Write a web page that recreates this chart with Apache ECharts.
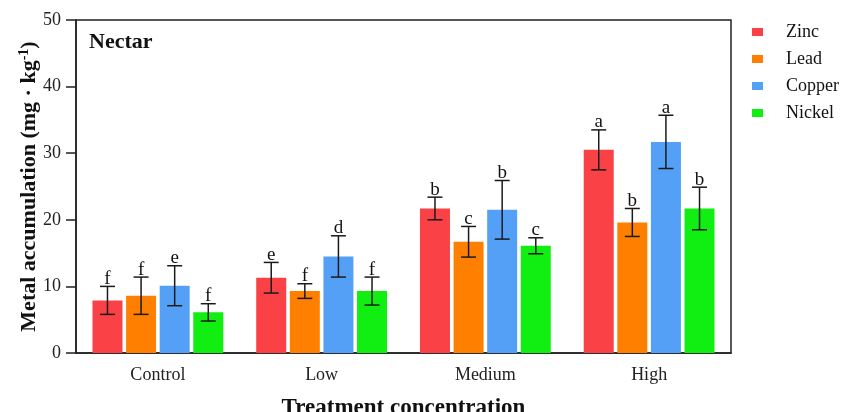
<!DOCTYPE html>
<html>
<head>
<meta charset="utf-8">
<script src="https://cdn.jsdelivr.net/npm/echarts@6/dist/echarts.min.js"></script>
<style>
  html, body { margin: 0; padding: 0; background: #fff; }
  #chart { width: 846px; height: 412px; }
</style>
</head>
<body>
<div id="chart"></div>
<script>
var categories = ["Control", "Low", "Medium", "High"];
var metals = ["Zinc", "Lead", "Copper", "Nickel"];
var colors = ["#fa4246", "#ff8000", "#55a0f7", "#11ee11"];

var zinc = [7.9, 11.3, 21.7, 30.5];
var lead = [8.6, 9.3, 16.7, 19.6];
var copper = [10.1, 14.5, 21.5, 31.7];
var nickel = [6.1, 9.3, 16.1, 21.7];

var zincErr = [2.1, 2.3, 1.7, 3.0];
var leadErr = [2.8, 1.1, 2.3, 2.1];
var copperErr = [3.0, 3.1, 4.4, 4.0];
var nickelErr = [1.3, 2.1, 1.2, 3.2];

var zincSig = ["f", "e", "b", "a"];
var leadSig = ["f", "f", "c", "b"];
var copperSig = ["e", "d", "b", "a"];
var nickelSig = ["f", "f", "c", "b"];

var values = [zinc, lead, copper, nickel];
var errors = [zincErr, leadErr, copperErr, nickelErr];
var letters = [zincSig, leadSig, copperSig, nickelSig];

var serif = "'Liberation Serif', 'Times New Roman', serif";
var barW = 30;
var step = 33.6;

var chart = echarts.init(document.getElementById("chart"));

var series = [];
metals.forEach(function (name, k) {
  series.push({
    name: name,
    type: "bar",
    data: values[k],
    barWidth: barW,
    barGap: "12%",
    itemStyle: { color: colors[k] },
    z: 2
  });
});

// error bars + significance letters, placed on the same offsets as the bars
metals.forEach(function (name, k) {
  series.push({
    name: name + " err",
    type: "custom",
    z: 5,
    data: values[k].map(function (v, i) { return [i, v, errors[k][i]]; }),
    renderItem: function (params, api) {
      var i = api.value(0);
      var v = api.value(1);
      var e = api.value(2);
      var top = api.coord([i, v + e]);
      var bot = api.coord([i, v - e]);
      var x = top[0] + (k - 1.5) * step;
      var cap = 7.5;
      var line = { stroke: "#1a1a1a", lineWidth: 1.5 };
      return {
        type: "group",
        children: [
          { type: "line", shape: { x1: x, y1: top[1], x2: x, y2: bot[1] }, style: line },
          { type: "line", shape: { x1: x - cap, y1: top[1], x2: x + cap, y2: top[1] }, style: line },
          { type: "line", shape: { x1: x - cap, y1: bot[1], x2: x + cap, y2: bot[1] }, style: line },
          {
            type: "text",
            style: {
              text: letters[k][i],
              x: x,
              y: top[1] + 2,
              textAlign: "center",
              textVerticalAlign: "bottom",
              font: "19px " + serif,
              fill: "#111"
            }
          }
        ]
      };
    }
  });
});

chart.setOption({
  animation: false,
  grid: {
    left: 76,
    right: 115,
    top: 20,
    bottom: 59,
    outerBoundsMode: "none",
    containLabel: false,
    show: true,
    borderColor: "#222",
    borderWidth: 1.5,
    backgroundColor: "transparent"
  },
  legend: {
    data: metals,
    orient: "vertical",
    left: 747,
    top: 18,
    icon: "rect",
    itemWidth: 11,
    itemHeight: 8,
    itemGap: 9,
    textStyle: {
      fontFamily: serif,
      fontSize: 18,
      color: "#111",
      padding: [0, 0, 0, 18]
    }
  },
  graphic: [
    {
      type: "text",
      left: 89,
      top: 31,
      style: {
        text: "Nectar",
        font: "bold 22px " + serif,
        fill: "#111"
      }
    }
  ],
  xAxis: {
    type: "category",
    data: categories,
    name: "Treatment concentration",
    nameLocation: "middle",
    nameGap: 44,
    nameMoveOverlap: false,
    nameTextStyle: {
      fontFamily: serif,
      fontSize: 23,
      fontWeight: "bold",
      color: "#111"
    },
    axisLine: { lineStyle: { color: "#222", width: 1.5 } },
    axisTick: { alignWithLabel: true, length: 10, lineStyle: { color: "#222", width: 1.5 } },
    axisLabel: {
      fontFamily: serif,
      fontSize: 18,
      color: "#222",
      margin: 13
    }
  },
  yAxis: {
    type: "value",
    min: 0,
    max: 50,
    interval: 10,
    name: "{a|Metal accumulation (mg · kg}{s|-1}{a|)}",
    nameLocation: "middle",
    nameGap: 35,
    nameMoveOverlap: false,
    nameTextStyle: {
      rich: {
        a: {
          fontFamily: serif,
          fontSize: 22,
          fontWeight: "bold",
          color: "#111"
        },
        s: {
          fontFamily: serif,
          fontSize: 14,
          fontWeight: "bold",
          color: "#111",
          verticalAlign: "top",
          padding: [0, 0, 10, 0]
        }
      }
    },
    splitLine: { show: false },
    axisLine: { show: true, lineStyle: { color: "#222", width: 1.5 } },
    axisTick: { show: true, length: 10, lineStyle: { color: "#222", width: 1.5 } },
    axisLabel: {
      fontFamily: serif,
      fontSize: 18,
      color: "#222",
      margin: 15
    }
  },
  series: series
});
</script>
</body>
</html>
